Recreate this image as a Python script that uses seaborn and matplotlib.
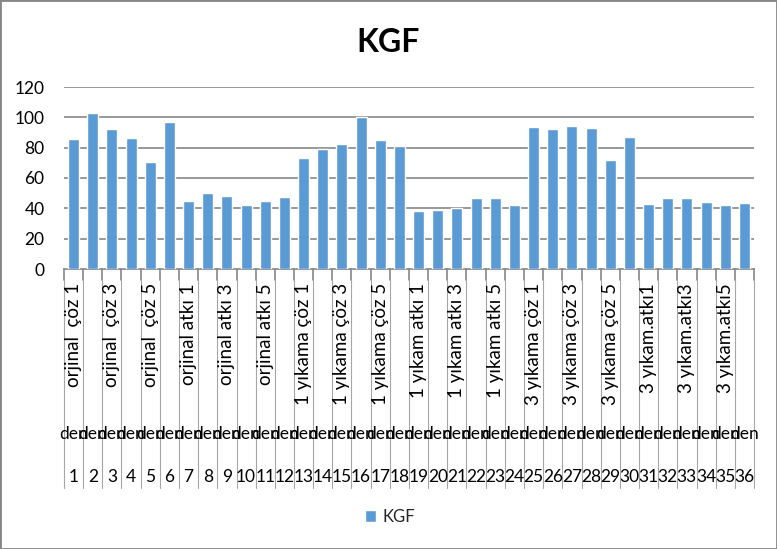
import matplotlib
matplotlib.use("Agg")
import matplotlib.pyplot as plt
import seaborn as sns
import pandas as pd
from matplotlib.patches import Rectangle
from matplotlib.lines import Line2D
from matplotlib.transforms import blended_transform_factory

sns.set_theme(style="white")
plt.rcParams['font.family'] = ['Lato', 'DejaVu Sans']

numbers = [str(i) for i in range(1, 37)]
values = [86, 103, 92.4, 86.4, 70.6, 97, 45, 50.2, 48.3, 42.3,
          45, 47.6, 73.3, 79.2, 82.5, 100, 85.1, 81.2, 38.4, 39,
          39.9, 46.9, 46.9, 42.3, 93.7, 92.4, 94.3, 93, 72, 87.1,
          43, 46.9, 46.9, 44.3, 42.3, 43.6]
group_labels = ["orjinal  çöz 1", "orjinal  çöz 3", "orjinal  çöz 5",
                "orjinal atkı 1", "orjinal atkı 3", "orjinal atkı 5",
                "1 yıkama çöz 1", "1 yıkama çöz 3", "1 yıkama çöz 5",
                "1 yıkam atkı 1", "1 yıkam atkı 3", "1 yıkam atkı 5",
                "3 yıkama çöz 1", "3 yıkama çöz 3", "3 yıkama çöz 5",
                "3 yıkam.atkı1", "3 yıkam.atkı3", "3 yıkam.atkı5"]
mid_label = "den"
title = "KGF"
series_name = "KGF"
yticks = [0, 20, 40, 60, 80, 100, 120]

df = pd.DataFrame({"n": numbers, "v": values})

W, H = 777, 549
fig = plt.figure(figsize=(W / 100, H / 100), dpi=100)
x0, x1 = 64, 754
y0, y1 = 269, 87
ax = fig.add_axes([x0 / W, 1 - y0 / H, (x1 - x0) / W, (y0 - y1) / H])

grid_c = "#868686"
sns.barplot(data=df, x="n", y="v", order=numbers, color="#5B9BD5",
            saturation=1, width=0.575, ax=ax, label=series_name, zorder=3)
ax.set_xlim(-0.5, 35.5)
ax.set_ylim(0, 120)
ax.set_yticks(yticks)
ax.set_yticklabels([str(t) for t in yticks], fontsize=12.5, color="#000000")
ax.tick_params(axis="y", length=0, pad=14)
ax.set_xticks([])
ax.set_xlabel("")
ax.set_ylabel("")
for s in ["top", "right", "left"]:
    ax.spines[s].set_visible(False)
ax.spines["bottom"].set_color(grid_c)
ax.spines["bottom"].set_linewidth(1.2)
for t in yticks[1:]:
    ax.axhline(t, color=grid_c, lw=1.2, zorder=1)

# category table lines and labels
trans = blended_transform_factory(ax.transData, fig.transFigure)
for i in range(37):
    xb = i - 0.5
    ax.add_line(Line2D([xb, xb], [1 - 269 / H, 1 - 280 / H], transform=trans,
                       color=grid_c, lw=1.2, clip_on=False))
    ax.add_line(Line2D([xb, xb], [1 - 280 / H, 1 - 488 / H], transform=trans,
                       color="#A6A6A6", lw=0.8, clip_on=False))

for k, lab in enumerate(group_labels):
    ax.text(2 * k, 1 - 283 / H, lab, transform=trans, rotation=90,
            ha="center", va="top", fontsize=13.5, color="#000000")

for i in range(36):
    ax.text(i, 1 - 434 / H, mid_label, transform=trans, ha="center",
            va="center", fontsize=12.5, color="#000000")
    ax.text(i, 1 - 477 / H, numbers[i], transform=trans, ha="center",
            va="center", fontsize=12.5, color="#000000")

fig.text(0.5, 1 - 42 / H, title, ha="center", va="center",
         fontsize=23, fontweight="bold", color="#000000")

leg = ax.legend(loc="center", bbox_to_anchor=(390 / W, 1 - 517 / H),
                bbox_transform=fig.transFigure, frameon=False,
                handlelength=0.7, handleheight=0.7, handletextpad=0.4,
                fontsize=12)

fig.patches.append(Rectangle((0, 0), 1, 1, transform=fig.transFigure,
                             fill=False, edgecolor=grid_c, lw=2))

fig.savefig("out.png", dpi=100, facecolor="white")
